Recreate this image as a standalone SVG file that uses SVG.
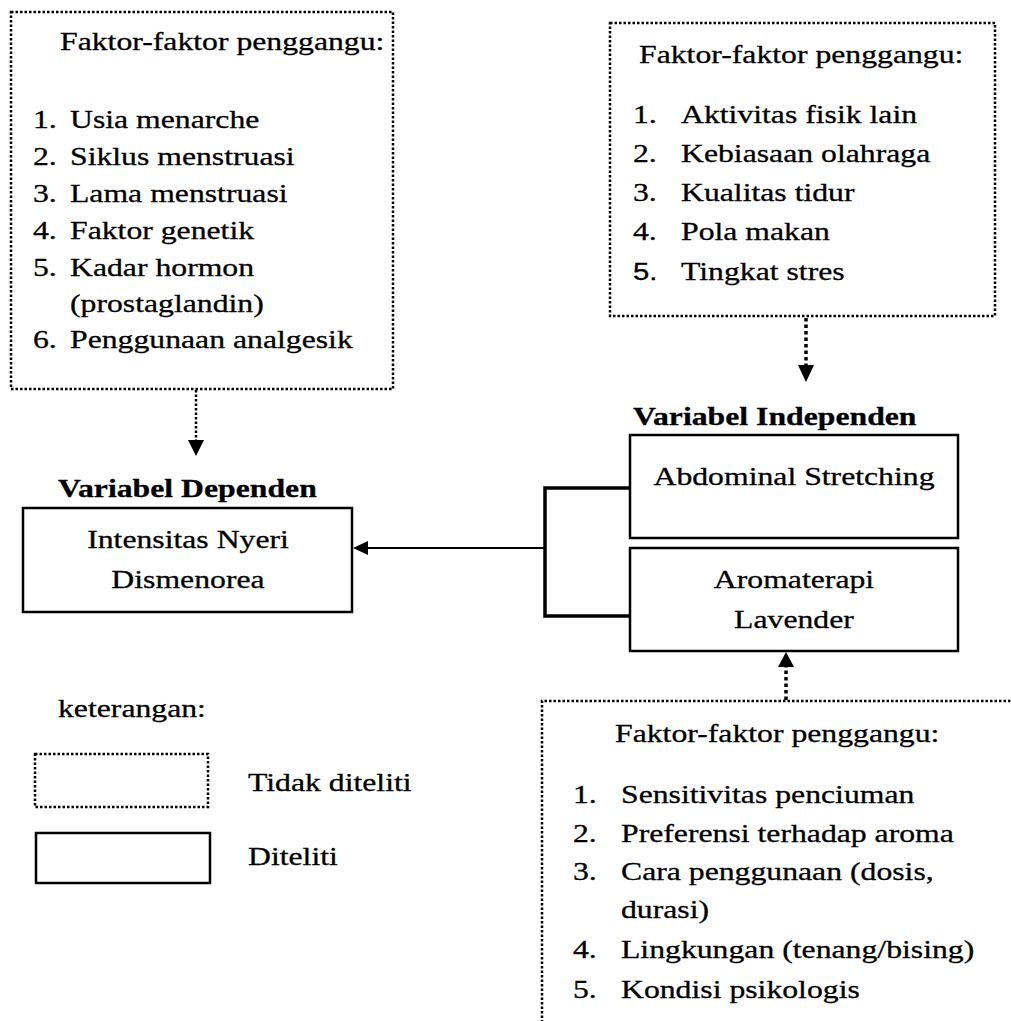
<svg xmlns="http://www.w3.org/2000/svg" width="1011" height="1021" viewBox="0 0 1011 1021">
<style>
  text { font-family: "Liberation Serif", "Times New Roman", serif; font-size: 26px; fill: #000; stroke: #000; stroke-width: 0.3; }
  .b { font-weight: bold; }
  .m { text-anchor: middle; }
  .sans { font-family: "Liberation Sans", Arial, sans-serif; font-size: 24px; }
  .dot { fill: none; stroke: #000; stroke-width: 2.5; stroke-dasharray: 2.5 2; }
  .solid { fill: none; stroke: #000; stroke-width: 2.5; }
  .dotline { fill: none; stroke: #000; stroke-width: 3.5; stroke-dasharray: 3.5 3; }
  .bracket { fill: none; stroke: #000; stroke-width: 3.5; }
  .line { fill: none; stroke: #000; stroke-width: 2; }
</style>
<rect width="1011" height="1021" fill="#fff"/>

<g id="confounders-dependent">
  <rect class="dot" x="11" y="12" width="382" height="377"/>
  <text transform="translate(60,50) scale(1.22,1)">Faktor-faktor penggangu:</text>
  <text transform="translate(33,128) scale(1.22,1)">1.</text>
  <text transform="translate(70,128) scale(1.22,1)">Usia menarche</text>
  <text transform="translate(33,165) scale(1.22,1)">2.</text>
  <text transform="translate(70,165) scale(1.22,1)">Siklus menstruasi</text>
  <text transform="translate(33,202) scale(1.22,1)">3.</text>
  <text transform="translate(70,202) scale(1.22,1)">Lama menstruasi</text>
  <text transform="translate(33,239) scale(1.22,1)">4.</text>
  <text transform="translate(70,239) scale(1.22,1)">Faktor genetik</text>
  <text transform="translate(33,276) scale(1.22,1)">5.</text>
  <text transform="translate(70,276) scale(1.22,1)">Kadar hormon</text>
  <text transform="translate(70,312) scale(1.22,1)">(prostaglandin)</text>
  <text transform="translate(33,348) scale(1.22,1)">6.</text>
  <text transform="translate(70,348) scale(1.22,1)">Penggunaan analgesik</text>
</g>

<g id="confounders-abdominal">
  <rect class="dot" x="610" y="23" width="385" height="293"/>
  <text transform="translate(639,63) scale(1.22,1)">Faktor-faktor penggangu:</text>
  <text transform="translate(633,123) scale(1.22,1)">1.</text>
  <text transform="translate(681,123) scale(1.22,1)">Aktivitas fisik lain</text>
  <text transform="translate(633,162) scale(1.22,1)">2.</text>
  <text transform="translate(681,162) scale(1.22,1)">Kebiasaan olahraga</text>
  <text transform="translate(633,201) scale(1.22,1)">3.</text>
  <text transform="translate(681,201) scale(1.22,1)">Kualitas tidur</text>
  <text transform="translate(633,240) scale(1.22,1)">4.</text>
  <text transform="translate(681,240) scale(1.22,1)">Pola makan</text>
  <text class="sans" transform="translate(633,280) scale(1.22,1)">5.</text>
  <text transform="translate(681,280) scale(1.22,1)">Tingkat stres</text>
</g>

<g id="confounders-aroma">
  <path class="dot" d="M1015,701 H542 V1025"/>
  <text transform="translate(615,742) scale(1.22,1)">Faktor-faktor penggangu:</text>
  <text transform="translate(573,803) scale(1.22,1)">1.</text>
  <text transform="translate(621,803) scale(1.22,1)">Sensitivitas penciuman</text>
  <text transform="translate(573,842) scale(1.22,1)">2.</text>
  <text transform="translate(621,842) scale(1.22,1)">Preferensi terhadap aroma</text>
  <text transform="translate(573,880) scale(1.22,1)">3.</text>
  <text transform="translate(621,880) scale(1.22,1)">Cara penggunaan (dosis,</text>
  <text transform="translate(621,918) scale(1.22,1)">durasi)</text>
  <text transform="translate(573,958) scale(1.22,1)">4.</text>
  <text transform="translate(621,958) scale(1.22,1)">Lingkungan (tenang/bising)</text>
  <text transform="translate(573,998) scale(1.22,1)">5.</text>
  <text transform="translate(621,998) scale(1.22,1)">Kondisi psikologis</text>
</g>

<g id="dependent">
  <text class="b" transform="translate(58,497) scale(1.22,1)">Variabel Dependen</text>
  <rect class="solid" x="23" y="508" width="329" height="104"/>
  <text class="m" transform="translate(188,548) scale(1.22,1)">Intensitas Nyeri</text>
  <text class="m" transform="translate(188,588) scale(1.22,1)">Dismenorea</text>
</g>

<g id="independent-abdominal">
  <text class="b" transform="translate(633,425) scale(1.22,1)">Variabel Independen</text>
  <rect class="solid" x="630" y="435" width="328" height="103"/>
  <text class="m" transform="translate(794,485) scale(1.22,1)">Abdominal Stretching</text>
</g>

<g id="independent-aroma">
  <rect class="solid" x="630" y="548" width="328" height="103"/>
  <text class="m" transform="translate(794,588) scale(1.22,1)">Aromaterapi</text>
  <text class="m" transform="translate(794,628) scale(1.22,1)">Lavender</text>
</g>

<g id="legend">
  <text transform="translate(58,717) scale(1.22,1)">keterangan:</text>
  <rect class="dot" x="35" y="754" width="173" height="53"/>
  <text transform="translate(248,791) scale(1.22,1)">Tidak diteliti</text>
  <rect class="solid" x="36" y="833" width="174" height="50"/>
  <text transform="translate(248,865) scale(1.22,1)">Diteliti</text>
</g>

<g id="connectors">
  <path class="dotline" style="stroke-width:2.5;stroke-dasharray:2.5 2" d="M196,390 V441"/>
  <path d="M188,440 L204,440 L196,456 Z" fill="#000"/>
  <path class="dotline" d="M806,318 V365"/>
  <path d="M798,365 L814,365 L806,382 Z" fill="#000"/>
  <path class="dotline" d="M786,700 V667"/>
  <path d="M778,667 L794,667 L786,652 Z" fill="#000"/>
  <path class="bracket" d="M630,488 H545 V616 H630"/>
  <path class="line" d="M545,548 H366"/>
  <path d="M368,541 L368,555 L353,548 Z" fill="#000"/>
</g>
</svg>
